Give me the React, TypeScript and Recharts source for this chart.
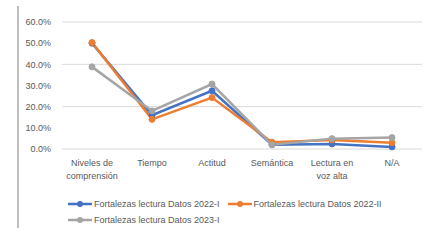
import React from 'react';
import { LineChart, Line, XAxis, YAxis, CartesianGrid } from 'recharts';

const categories = ['Niveles de comprensión', 'Tiempo', 'Actitud', 'Semántica', 'Lectura en voz alta', 'N/A'];
const tickLines: Record<string, string[]> = {
  'Niveles de comprensión': ['Niveles de', 'comprensión'],
  'Lectura en voz alta': ['Lectura en', 'voz alta'],
};
const datos2022I = [50.0, 16.0, 27.5, 2.0, 2.4, 1.0];
const datos2022II = [50.3, 14.0, 24.3, 3.2, 4.3, 3.0];
const datos2023I = [38.8, 18.0, 30.7, 2.0, 4.9, 5.4];
const yTicks = [0, 10, 20, 30, 40, 50, 60];

const series = [
  { key: 'a', name: 'Fortalezas lectura Datos 2022-I', color: '#4472C4', values: datos2022I },
  { key: 'b', name: 'Fortalezas lectura Datos 2022-II', color: '#ED7D31', values: datos2022II },
  { key: 'c', name: 'Fortalezas lectura Datos 2023-I', color: '#A5A5A5', values: datos2023I },
];

const data = categories.map((name, i) => {
  const row: any = { name };
  series.forEach((s) => { row[s.key] = s.values[i]; });
  return row;
});

const FONT = '"Liberation Sans", Arial, sans-serif';
const TEXT = '#595959';

const CategoryTick = (props: any) => {
  const { x, y, payload } = props;
  const lines = tickLines[payload.value] || [payload.value];
  return (
    <text x={x} y={y} textAnchor="middle" fill={TEXT} fontSize={9} fontFamily={FONT}>
      {lines.map((l, i) => (
        <tspan key={i} x={x} dy={i === 0 ? 9 : 13}>{l}</tspan>
      ))}
    </text>
  );
};

const LegendItem = ({ name, color }: { name: string; color: string }) => (
  <div style={{ display: 'flex', alignItems: 'center', marginRight: 8 }}>
    <svg width={25} height={8} style={{ marginRight: 1 }}>
      <line x1={0} y1={4} x2={24} y2={4} stroke={color} strokeWidth={2.5} />
      <circle cx={12} cy={4} r={3} fill={color} />
    </svg>
    <span>{name}</span>
  </div>
);

export default function App() {
  return (
    <div style={{ position: 'absolute', left: 0, top: 0, width: 433, height: 241, background: '#fff', fontFamily: FONT }}>
      <div style={{ position: 'absolute', left: 17, top: 6, width: 2, height: 222, background: '#BFBFBF' }} />
      <LineChart width={433} height={241} data={data} margin={{ top: 22, right: 11, left: 0, bottom: 52 }}>
        <CartesianGrid vertical={false} stroke="#D9D9D9" />
        <XAxis
          dataKey="name"
          axisLine={false}
          tickLine={false}
          height={40}
          interval={0}
          padding={{ left: 30, right: 30 }}
          tick={<CategoryTick />}
        />
        <YAxis
          domain={[0, 60]}
          ticks={yTicks}
          width={62}
          axisLine={false}
          tickLine={false}
          tickSize={6}
          tickMargin={5}
          tickFormatter={(v: number) => v.toFixed(1) + '%'}
          tick={{ fill: TEXT, fontSize: 9, fontFamily: FONT }}
        />
        {series.map((s) => (
          <Line
            key={s.key}
            dataKey={s.key}
            name={s.name}
            stroke={s.color}
            strokeWidth={2.5}
            type="linear"
            dot={{ r: 3, fill: s.color, stroke: s.color, strokeWidth: 1 }}
            isAnimationActive={false}
          />
        ))}
      </LineChart>
      <div style={{ position: 'absolute', left: 68, top: 194, width: 340, fontSize: 9, color: TEXT, lineHeight: '12px' }}>
        <div style={{ display: 'flex', height: 20 }}>
          <LegendItem name={series[0].name} color={series[0].color} />
          <LegendItem name={series[1].name} color={series[1].color} />
        </div>
        <div style={{ display: 'flex' }}>
          <LegendItem name={series[2].name} color={series[2].color} />
        </div>
      </div>
    </div>
  );
}
